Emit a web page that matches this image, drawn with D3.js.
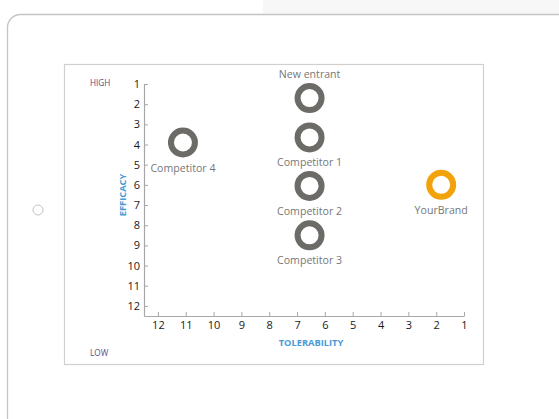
<!DOCTYPE html>
<html>
<head>
<meta charset="utf-8">
<script src="https://cdn.jsdelivr.net/npm/d3@7"></script>
<style>
  html, body { margin: 0; padding: 0; background: #fff; }
  svg { display: block; font-family: "Open Sans", "DejaVu Sans", sans-serif; }
</style>
</head>
<body>
<svg id="chart" width="559" height="419"></svg>
<script>
// Brand positioning: tolerability (x, 1 = best) vs efficacy (y, 1 = best)
const brands      = ["New entrant", "Competitor 1", "Competitor 2", "Competitor 3", "Competitor 4", "YourBrand"];
const tolerability = [6.55, 6.55, 6.55, 6.55, 11.1, 1.82];
const efficacy     = [1.7, 3.65, 6.05, 8.5, 3.9, 6.0];
const highlighted  = [false, false, false, false, false, true];
const labelAbove   = [true, false, false, false, false, false];
const tickValues   = [1, 2, 3, 4, 5, 6, 7, 8, 9, 10, 11, 12];

const svg = d3.select("#chart");

// device frame
svg.append("rect").attr("x", 263).attr("y", 0).attr("width", 296).attr("height", 14).attr("fill", "#f7f7f7");
svg.append("rect")
  .attr("x", 7.5).attr("y", 14.5).attr("width", 580).attr("height", 440)
  .attr("rx", 13).attr("ry", 13)
  .attr("fill", "#fff").attr("stroke", "#c4c4c4").attr("stroke-width", 1.3);
svg.append("circle").attr("cx", 38).attr("cy", 210).attr("r", 5)
  .attr("fill", "none").attr("stroke", "#c4c4c4").attr("stroke-width", 1);

// chart panel
svg.append("rect")
  .attr("x", 64.5).attr("y", 64.5).attr("width", 419).attr("height", 300)
  .attr("fill", "#fff").attr("stroke", "#d0d0d0").attr("stroke-width", 1.2);

const x = d3.scaleLinear().domain([12.5, 1]).range([144, 464]);
const y = d3.scaleLinear().domain([1, 12.5]).range([84, 316]);

const yAxis = svg.append("g")
  .attr("transform", `translate(${x(12.5)},0)`)
  .call(d3.axisLeft(y).tickValues(tickValues).tickSize(-4).tickSizeOuter(0).tickPadding(4));
const xAxis = svg.append("g")
  .attr("transform", `translate(0,${y(12.5)})`)
  .call(d3.axisBottom(x).tickValues(tickValues).tickSize(-4).tickSizeOuter(0).tickPadding(5));

[yAxis, xAxis].forEach(g => {
  g.select(".domain").attr("stroke", "#a8a8a8").attr("stroke-width", 1.2);
  g.selectAll(".tick line").attr("stroke", "#a8a8a8");
  g.selectAll(".tick text").attr("fill", "#1a1a1a").attr("font-size", 11)
    .attr("font-family", "\"Open Sans\", sans-serif");
});

// axis titles
svg.append("text").attr("x", 311).attr("y", 346).attr("text-anchor", "middle")
  .attr("fill", "#4a9ad6").attr("font-size", 9.3).attr("font-weight", "bold").text("TOLERABILITY");
svg.append("text").attr("transform", "translate(126,195) rotate(-90)").attr("text-anchor", "middle")
  .attr("fill", "#4a9ad6").attr("font-size", 9.3).attr("font-weight", "bold").text("EFFICACY");
svg.append("text").attr("x", 90).attr("y", 85.5).attr("fill", "#5a4a8e").attr("font-size", 8.2).text("HIGH");
svg.append("text").attr("x", 90).attr("y", 355.5).attr("fill", "#5a4a8e").attr("font-size", 8.2).text("LOW");

// brand rings and labels
const data = brands.map((b, i) => ({
  name: b, tol: tolerability[i], eff: efficacy[i], hi: highlighted[i], above: labelAbove[i]
}));

const marks = svg.append("g").selectAll("g").data(data).join("g")
  .attr("transform", d => `translate(${x(d.tol)},${y(d.eff)})`);

marks.append("circle").attr("r", 12)
  .attr("fill", "none")
  .attr("stroke", d => d.hi ? "#f2a20a" : "#6d6b68")
  .attr("stroke-width", 6);

marks.append("text")
  .attr("text-anchor", "middle")
  .attr("y", d => d.above ? -20.5 : 29)
  .attr("fill", "#777")
  .attr("font-size", 10.6)
  .text(d => d.name);
</script>
</body>
</html>
